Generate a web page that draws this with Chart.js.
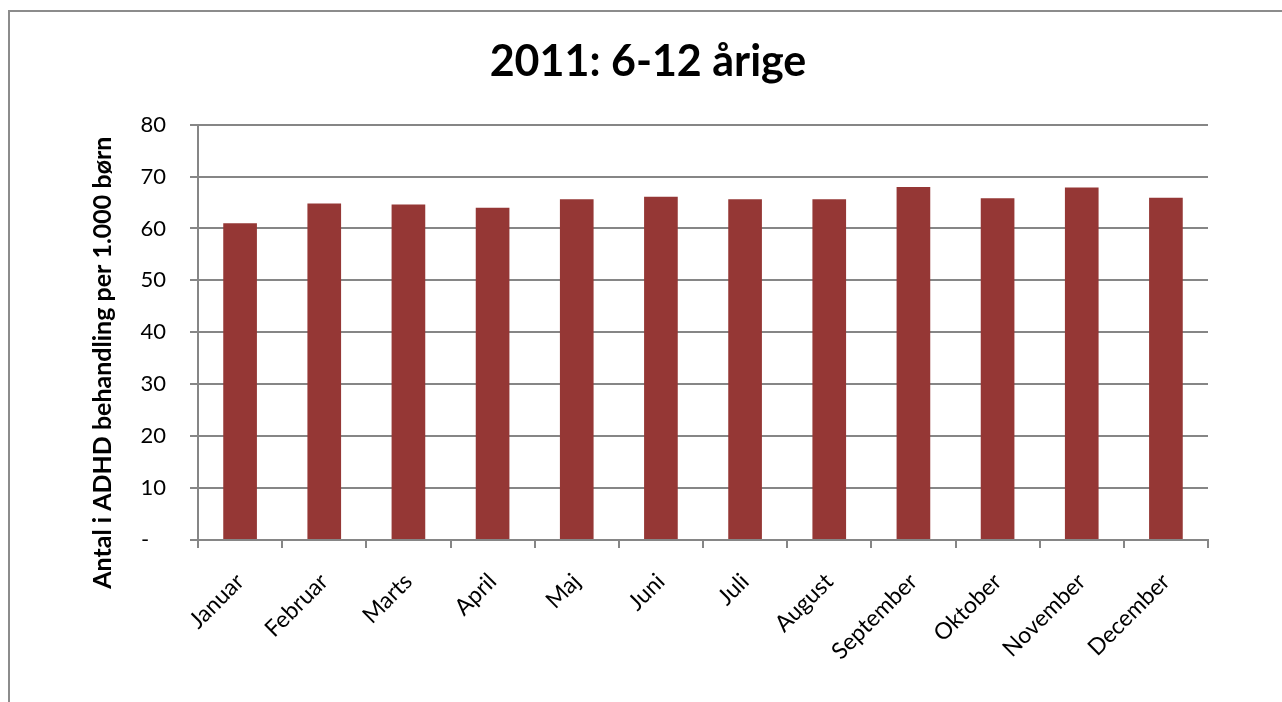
<!DOCTYPE html>
<html>
<head>
<meta charset="utf-8">
<script src="https://cdn.jsdelivr.net/npm/chart.js@4/dist/chart.umd.min.js"></script>
<style>
  html, body { margin: 0; padding: 0; background: #fff; overflow: hidden; }
  #wrap { position: absolute; left: 0; top: 0; width: 1282px; height: 702px; }
  #frame {
    position: absolute; left: 8px; top: 10px; width: 1300px; height: 720px;
    border-top: 2px solid #8c8c8c; border-left: 2px solid #8c8c8c;
    pointer-events: none;
  }
</style>
</head>
<body>
<div id="wrap"><canvas id="chart" width="1282" height="702"></canvas></div>
<div id="frame"></div>
<script>
// chart data
const MONTHS = ['Januar', 'Februar', 'Marts', 'April', 'Maj', 'Juni',
                'Juli', 'August', 'September', 'Oktober', 'November', 'December'];
const RATES  = [61.0, 64.8, 64.6, 64.0, 65.6, 66.1, 65.6, 65.6, 68.0, 65.8, 67.9, 65.9];

const TITLE  = '2011: 6-12 årige';
const Y_TITLE = 'Antal i ADHD behandling per 1.000 børn';
const Y_MIN = 0, Y_MAX = 80, Y_STEP = 10;

const BAR_COLOR  = '#953735';
const GRID_COLOR = '#868686';
const FONT = 'Lato, "Open Sans", sans-serif';

// y title sits a bit below the axis centre in the original; trailing spaces push it down
const Y_TITLE_PAD = '          ';

const ctx = document.getElementById('chart').getContext('2d');
new Chart(ctx, {
  type: 'bar',
  data: {
    labels: MONTHS,
    datasets: [{
      data:               RATES,
      backgroundColor:    BAR_COLOR,
      borderWidth:        0,
      barPercentage:      0.4,
      categoryPercentage: 1.0
    }]
  },
  options: {
    responsive: false,
    animation:  false,
    layout: { padding: { left: 88, right: 74, top: 0, bottom: 0 } },
    plugins: {
      legend:  { display: false },
      tooltip: { enabled: false },
      title: {
        display: true,
        text:    TITLE,
        color:   '#000',
        font:    { family: FONT, size: 43, weight: 'bold' },
        padding: { top: 36, bottom: 37 }
      }
    },
    scales: {
      x: {
        grid: {
          display: true, drawOnChartArea: false, drawTicks: true,
          tickLength: 8, color: GRID_COLOR, lineWidth: 2, offset: true
        },
        border: { color: GRID_COLOR, width: 2 },
        ticks: {
          color: '#000',
          font: { family: FONT, size: 23 },
          maxRotation: 45, minRotation: 45,
          autoSkip: false, padding: 20
        },
        afterFit: s => { s.height = 162; }
      },
      y: {
        min: Y_MIN, max: Y_MAX,
        grid: { color: GRID_COLOR, lineWidth: 2, tickLength: 8 },
        border: { color: GRID_COLOR, width: 2 },
        ticks: {
          stepSize: Y_STEP,
          color: '#000',
          font: { family: FONT, size: 22 },
          padding: 24,
          callback: v => v === 0 ? '-   ' : v
        },
        title: {
          display: true,
          text:    Y_TITLE + Y_TITLE_PAD,
          color:   '#000',
          font:    { family: FONT, size: 25, weight: 'bold' },
          padding: 0
        },
        afterFit: s => { s.width = 110; }
      }
    }
  }
});
</script>
</body>
</html>
